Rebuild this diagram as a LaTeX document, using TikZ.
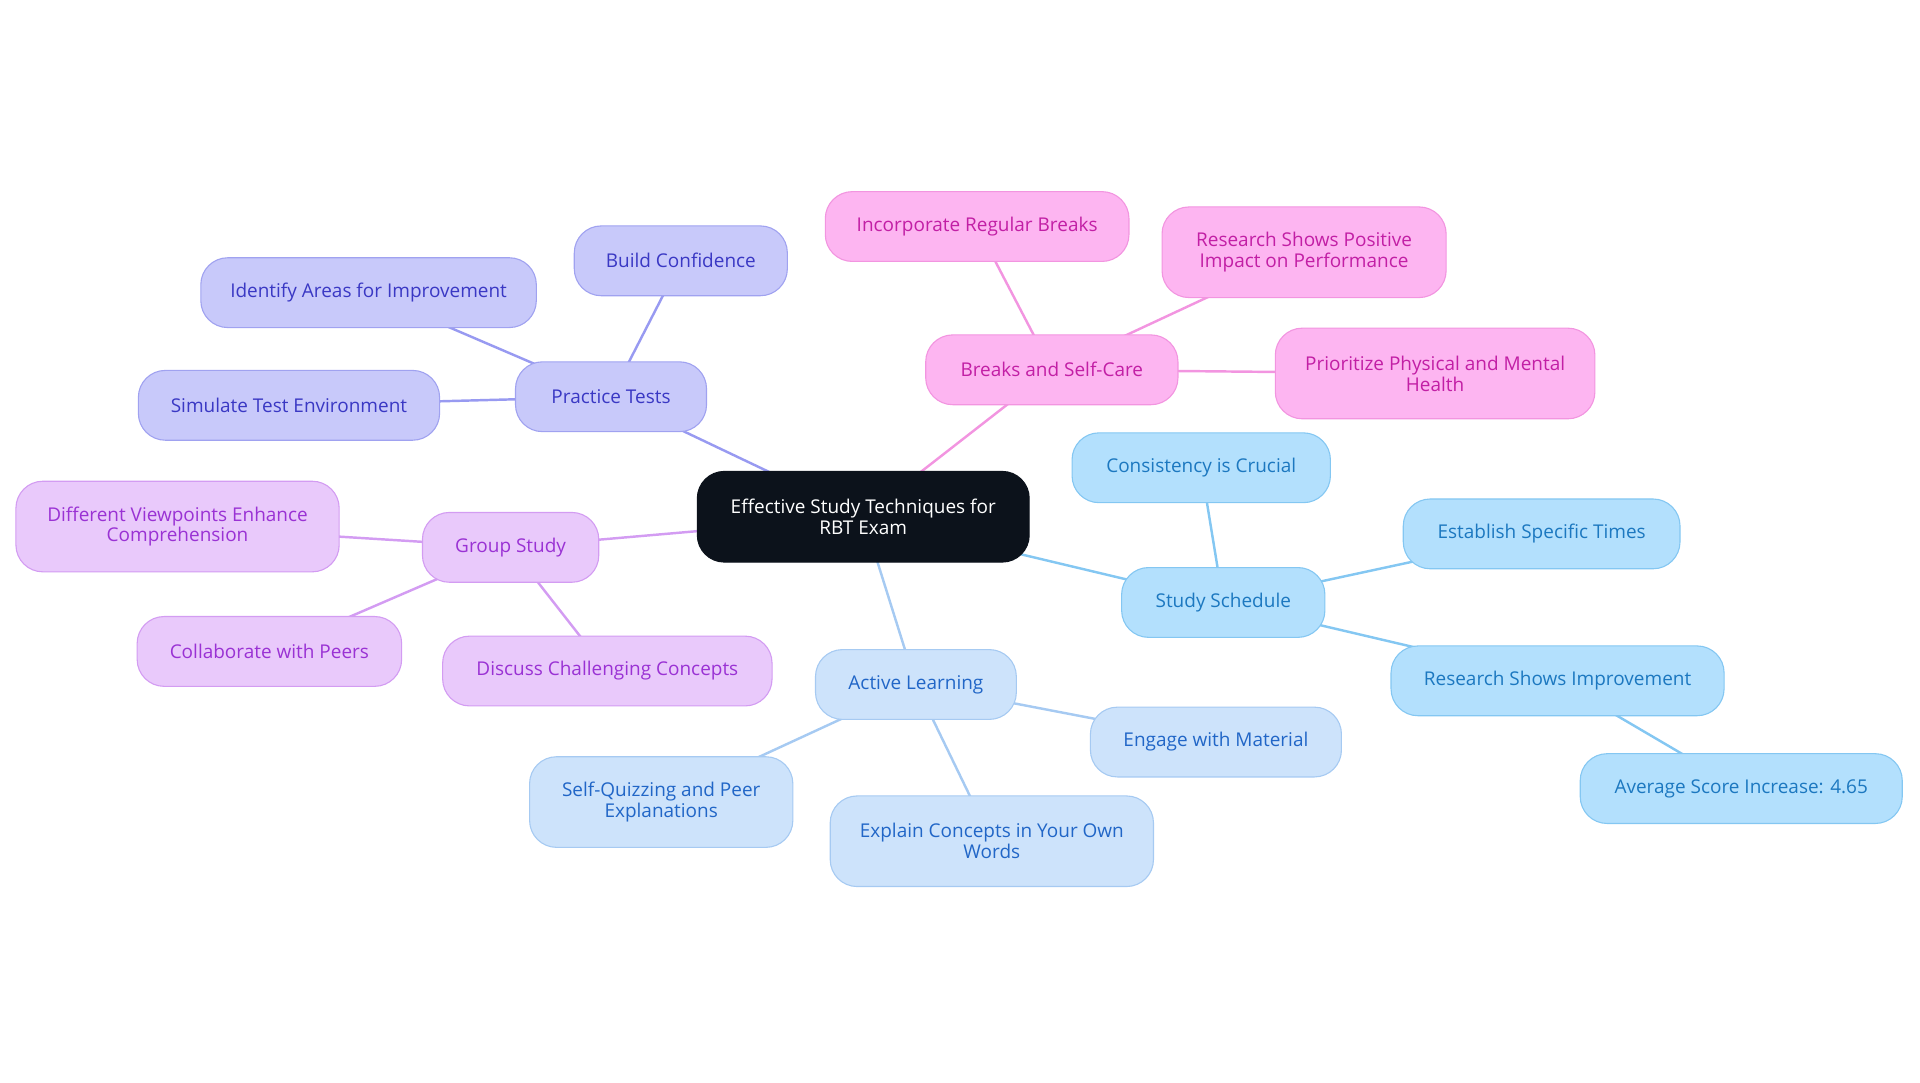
\documentclass[tikz,border=0pt]{standalone}
\usepackage{fontspec}
\setmainfont{Open Sans}
\usepackage{xcolor}
\usepackage{tikz}
\usetikzlibrary{backgrounds}

\definecolor{rootfill}{HTML}{0C121B}
\definecolor{lavfill}{HTML}{C8C9FA}
\definecolor{lavline}{HTML}{A0A2F0}
\definecolor{lavtext}{HTML}{3A38C4}
\definecolor{purfill}{HTML}{E9C9FB}
\definecolor{purline}{HTML}{D39CF2}
\definecolor{purtext}{HTML}{9A32D4}
\definecolor{pinkfill}{HTML}{FDB5F1}
\definecolor{pinkline}{HTML}{F295E0}
\definecolor{pinktext}{HTML}{C21FA5}
\definecolor{bluefill}{HTML}{B3E0FD}
\definecolor{blueline}{HTML}{84C7F2}
\definecolor{bluetext}{HTML}{1C78C0}
\definecolor{skyfill}{HTML}{CDE3FB}
\definecolor{skyline}{HTML}{A6CAF2}
\definecolor{skytext}{HTML}{2166C7}

\begin{document}
\begin{tikzpicture}[x=1pt, y=-1pt,
  box/.style={rounded corners=22pt, draw, line width=0.9pt, align=center,
    inner sep=0pt, minimum height=57pt, font=\fontsize{15.5}{17}\selectfont},
  tall/.style={minimum height=74pt},
  root/.style={box, fill=rootfill, draw=rootfill, text=white, tall},
  lav/.style={box, fill=lavfill, draw=lavline, text=lavtext},
  pur/.style={box, fill=purfill, draw=purline, text=purtext},
  pink/.style={box, fill=pinkfill, draw=pinkline, text=pinktext},
  blue/.style={box, fill=bluefill, draw=blueline, text=bluetext},
  sky/.style={box, fill=skyfill, draw=skyline, text=skytext},
  link/.style={line width=2pt}]
\useasboundingbox (0,0) rectangle (1568,884);

% centre
\node[root, minimum width=271pt] (exam) at (705,422) {Effective Study Techniques for\\RBT Exam};

% practice tests
\node[lav, minimum width=156pt] (practice) at (499,324) {Practice Tests};
\node[lav, minimum width=174pt] (confidence) at (556,213) {Build Confidence};
\node[lav, minimum width=274pt] (areas) at (301,239) {Identify Areas for Improvement};
\node[lav, minimum width=246pt] (simulate) at (236,331) {Simulate Test Environment};

% group study
\node[pur, minimum width=144pt] (group) at (417,447) {Group Study};
\node[pur, minimum width=264pt, tall] (viewpoints) at (145,430) {Different Viewpoints Enhance\\Comprehension};
\node[pur, minimum width=216pt] (peers) at (220,532) {Collaborate with Peers};
\node[pur, minimum width=269pt] (discuss) at (496,548) {Discuss Challenging Concepts};

% breaks
\node[pink, minimum width=206pt] (breaks) at (859,302) {Breaks and Self-Care};
\node[pink, minimum width=248pt] (regular) at (798,185) {Incorporate Regular Breaks};
\node[pink, minimum width=232pt, tall] (impact) at (1065,206) {Research Shows Positive\\Impact on Performance};
\node[pink, minimum width=261pt, tall] (health) at (1172,305) {Prioritize Physical and Mental\\Health};

% schedule
\node[blue, minimum width=166pt] (schedule) at (999,492) {Study Schedule};
\node[blue, minimum width=211pt] (consistency) at (981,382) {Consistency is Crucial};
\node[blue, minimum width=226pt] (times) at (1259,436) {Establish Specific Times};
\node[blue, minimum width=272pt] (research) at (1272,556) {Research Shows Improvement};
\node[blue, minimum width=263pt] (score) at (1422,644) {Average Score Increase: 4.65};

% active learning
\node[sky, minimum width=164pt] (active) at (748,559) {Active Learning};
\node[sky, minimum width=205pt] (engage) at (993,606) {Engage with Material};
\node[sky, minimum width=215pt, tall] (quiz) at (540,655) {Self-Quizzing and Peer\\Explanations};
\node[sky, minimum width=264pt, tall] (explain) at (810,687) {Explain Concepts in Your Own\\Words};

\begin{pgfonlayer}{background}
  \draw[link, color=lavline!95!blue] (exam.center) -- (practice.center);
  \draw[link, color=lavline!95!blue] (practice.center) -- (confidence.center);
  \draw[link, color=lavline!95!blue] (practice.center) -- (areas.center);
  \draw[link, color=lavline!95!blue] (practice.center) -- (simulate.center);
  \draw[link, color=purline] (exam.center) -- (group.center);
  \draw[link, color=purline] (group.center) -- (viewpoints.center);
  \draw[link, color=purline] (group.center) -- (peers.center);
  \draw[link, color=purline] (group.center) -- (discuss.center);
  \draw[link, color=pinkline] (exam.center) -- (breaks.center);
  \draw[link, color=pinkline] (breaks.center) -- (regular.center);
  \draw[link, color=pinkline] (breaks.center) -- (impact.center);
  \draw[link, color=pinkline] (breaks.center) -- (health.center);
  \draw[link, color=blueline] (exam.center) -- (schedule.center);
  \draw[link, color=blueline] (schedule.center) -- (consistency.center);
  \draw[link, color=blueline] (schedule.center) -- (times.center);
  \draw[link, color=blueline] (schedule.center) -- (research.center);
  \draw[link, color=blueline] (research.center) -- (score.center);
  \draw[link, color=skyline] (exam.center) -- (active.center);
  \draw[link, color=skyline] (active.center) -- (engage.center);
  \draw[link, color=skyline] (active.center) -- (quiz.center);
  \draw[link, color=skyline] (active.center) -- (explain.center);
\end{pgfonlayer}
\end{tikzpicture}
\end{document}
